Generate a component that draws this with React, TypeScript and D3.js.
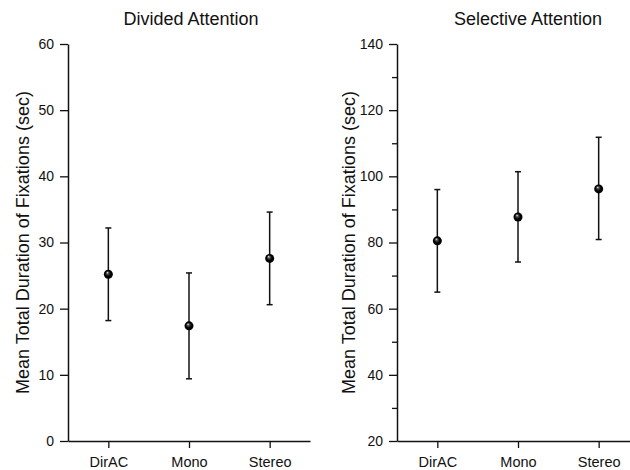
import React, { useEffect, useRef } from "react";
import * as d3 from "d3";

const categories = ["DirAC", "Mono", "Stereo"];

const dividedMean = [25.2, 17.4, 27.6];
const dividedUpper = [32.2, 25.4, 34.6];
const dividedLower = [18.2, 9.4, 20.6];
const dividedTicks = [0, 10, 20, 30, 40, 50, 60];

const selectiveMean = [80.5, 87.7, 96.2];
const selectiveUpper = [96.0, 101.4, 111.8];
const selectiveLower = [65.0, 74.1, 80.9];
const selectiveTicks = [20, 40, 60, 80, 100, 120, 140];
const selectiveMinor = [30, 50, 70, 90, 110, 130];

const FONT = "'Liberation Sans', Arial, Helvetica, sans-serif";

export default function App() {
  const ref = useRef<SVGSVGElement>(null);

  useEffect(() => {
    const svg = d3.select(ref.current);
    svg.selectAll("*").remove();

    const defs = svg.append("defs");
    const grad = defs
      .append("radialGradient")
      .attr("id", "ball")
      .attr("cx", "0.5")
      .attr("cy", "0.5")
      .attr("r", "0.5")
      .attr("fx", "0.38")
      .attr("fy", "0.3");
    grad.append("stop").attr("offset", "0%").attr("stop-color", "#f2f2f2");
    grad.append("stop").attr("offset", "25%").attr("stop-color", "#555");
    grad.append("stop").attr("offset", "60%").attr("stop-color", "#000");
    grad.append("stop").attr("offset", "100%").attr("stop-color", "#000");

    const top = 44;
    const bottom = 441;
    const plotW = 242;

    const panels = [
      {
        title: "Divided Attention",
        titleX: 191,
        x0: 68,
        domain: [0, 60],
        ticks: dividedTicks,
        minor: [] as number[],
        mean: dividedMean,
        upper: dividedUpper,
        lower: dividedLower,
        labelX: 29,
      },
      {
        title: "Selective Attention",
        titleX: 528,
        x0: 397,
        domain: [20, 140],
        ticks: selectiveTicks,
        minor: selectiveMinor,
        mean: selectiveMean,
        upper: selectiveUpper,
        lower: selectiveLower,
        labelX: 355,
      },
    ];

    panels.forEach((p) => {
      const x = d3
        .scaleLinear()
        .domain([0.5, categories.length + 0.5])
        .range([p.x0, p.x0 + plotW]);
      const y = d3.scaleLinear().domain(p.domain).range([bottom, top]);

      // title
      svg
        .append("text")
        .attr("x", p.titleX)
        .attr("y", 25)
        .attr("text-anchor", "middle")
        .style("font-family", FONT)
        .style("font-size", "18px")
        .attr("fill", "#111")
        .text(p.title);

      // y label
      svg
        .append("text")
        .attr("transform", `translate(${p.labelX},${(top + bottom) / 2}) rotate(-90)`)
        .attr("text-anchor", "middle")
        .style("font-family", FONT)
        .style("font-size", "18px")
        .attr("fill", "#111")
        .text("Mean Total Duration of Fixations (sec)");

      // minor ticks
      if (p.minor.length) {
        const gm = svg
          .append("g")
          .attr("transform", `translate(${p.x0},0)`)
          .call(
            d3
              .axisLeft(y)
              .tickValues(p.minor)
              .tickSize(5)
              .tickFormat(() => "")
          );
        gm.select(".domain").remove();
        gm.selectAll("line").attr("stroke", "#111").attr("stroke-width", 1.3);
      }

      // y axis
      const gy = svg
        .append("g")
        .attr("transform", `translate(${p.x0},0)`)
        .call(
          d3
            .axisLeft(y)
            .tickValues(p.ticks)
            .tickSize(8)
            .tickSizeOuter(0)
            .tickPadding(6)
            .tickFormat(d3.format("d"))
        );
      gy.select(".domain").attr("stroke", "#111").attr("stroke-width", 1.5);
      gy.selectAll("line").attr("stroke", "#111").attr("stroke-width", 1.3);
      gy.selectAll("text")
        .style("font-family", FONT)
        .style("font-size", "14px")
        .attr("fill", "#111");

      // x axis
      const gx = svg
        .append("g")
        .attr("transform", `translate(0,${bottom})`)
        .call(
          d3
            .axisBottom(x)
            .tickValues(categories.map((_, i) => i + 1))
            .tickSize(7)
            .tickSizeOuter(0)
            .tickPadding(9)
            .tickFormat((d) => categories[(d as number) - 1])
        );
      gx.select(".domain").attr("stroke", "#111").attr("stroke-width", 1.5);
      gx.selectAll("line").attr("stroke", "#111").attr("stroke-width", 1.3);
      gx.selectAll("text")
        .style("font-family", FONT)
        .style("font-size", "14.5px")
        .attr("fill", "#111");

      // error bars
      const g = svg.append("g");
      const rows = categories.map((c, i) => ({
        i: i + 1,
        mean: p.mean[i],
        upper: p.upper[i],
        lower: p.lower[i],
      }));
      g.selectAll(".stem")
        .data(rows)
        .join("line")
        .attr("x1", (d) => x(d.i))
        .attr("x2", (d) => x(d.i))
        .attr("y1", (d) => y(d.upper))
        .attr("y2", (d) => y(d.lower))
        .attr("stroke", "#111")
        .attr("stroke-width", 1.5);
      ["upper", "lower"].forEach((k) => {
        g.selectAll(`.cap-${k}`)
          .data(rows)
          .join("line")
          .attr("x1", (d) => x(d.i) - 3)
          .attr("x2", (d) => x(d.i) + 3)
          .attr("y1", (d) => y((d as any)[k]))
          .attr("y2", (d) => y((d as any)[k]))
          .attr("stroke", "#111")
          .attr("stroke-width", 1.5);
      });
      g.selectAll("circle")
        .data(rows)
        .join("circle")
        .attr("cx", (d) => x(d.i))
        .attr("cy", (d) => y(d.mean))
        .attr("r", 4.5)
        .attr("fill", "url(#ball)");
    });
  }, []);

  return (
    <svg
      ref={ref}
      width={630}
      height={470}
      style={{ position: "absolute", left: 0, top: 0, background: "#fff" }}
    ></svg>
  );
}
